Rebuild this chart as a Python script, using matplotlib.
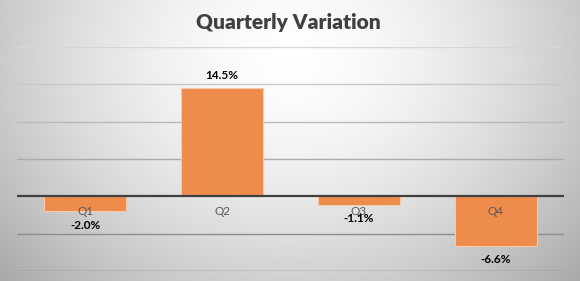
import numpy as np
import matplotlib
matplotlib.use("Agg")
import matplotlib.pyplot as plt

quarters = ["Q1", "Q2", "Q3", "Q4"]
variation = [-2.0, 14.5, -1.1, -6.6]
y_ticks = [-10, -5, 0, 5, 10, 15, 20]

plt.rcParams["font.family"] = ["Lato", "DejaVu Sans"]

fig = plt.figure(figsize=(5.8, 2.81), dpi=100)

# radial gradient background
bg = fig.add_axes([0, 0, 1, 1], zorder=0)
gx, gy = np.meshgrid(np.linspace(0, 1, 580), np.linspace(0, 1, 281))
r = np.sqrt(((gx - 0.5) / 0.55) ** 2 + ((gy - 0.2) / 0.95) ** 2)
shade = np.clip(1.0 - 0.24 * r ** 1.6, 0, 1)
bg.imshow(np.dstack([shade] * 3), aspect="auto", extent=[0, 1, 1, 0])
bg.set_axis_off()

ax = fig.add_axes([0.0293, 0.0356, 0.9431, 0.7971], zorder=1)
ax.patch.set_alpha(0)

x = np.arange(len(quarters))
ax.bar(x, variation, width=0.6, color="#EE8C4C", edgecolor="#F7C9A8",
       linewidth=0.8, zorder=2)

ax.set_xlim(-0.5, len(quarters) - 0.5)
ax.set_ylim(y_ticks[0], y_ticks[-1])

# gridlines darken toward the bottom, as in the original
lo, hi = y_ticks[0], y_ticks[-1]
for t in y_ticks:
    if t == 0:
        continue
    frac = (t - lo) / (hi - lo)
    g = 0.50 + 0.34 * frac
    ax.axhline(t, color=(g, g, g), linewidth=1.0, zorder=0)
ax.axhline(0, color="#404040", linewidth=1.6, zorder=3)

ax.set_xticks([])
ax.set_yticks([])
for side in ["top", "right", "left", "bottom"]:
    ax.spines[side].set_visible(False)

for xi, q in zip(x, quarters):
    ax.annotate(q, (xi, 0), xytext=(0, -11), textcoords="offset points",
                ha="center", va="center", fontsize=8.5, color="#595959", zorder=4)

for xi, v in zip(x, variation):
    off = 9.4 if v > 0 else -10
    ax.annotate(f"{v:.1f}%", (xi, v), xytext=(0, off), textcoords="offset points",
                ha="center", va="center", fontsize=8.5, fontweight="bold",
                color="black", zorder=4)

fig.text(0.497, 1 - 22.5 / 281, "Quarterly Variation", ha="center", va="center",
         fontsize=15, fontweight="heavy", color="#404040")

fig.savefig("out.png", dpi=100)
